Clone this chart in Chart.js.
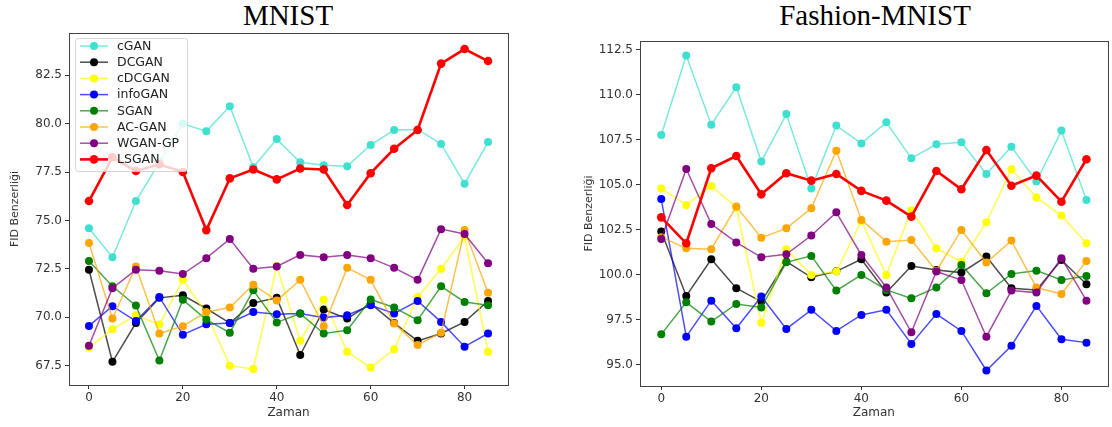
<!DOCTYPE html>
<html>
<head>
<meta charset="utf-8">
<script src="https://cdn.jsdelivr.net/npm/chart.js@4.4.1/dist/chart.umd.min.js"></script>
<style>
  body { margin: 0; background: #fff; width: 1112px; height: 427px; overflow: hidden; position: relative; }
  canvas { position: absolute; top: 0; }
  .title { position: absolute; top: 1px; font-family: 'Liberation Serif', serif; font-size: 29px; color: #000; line-height: 1; white-space: nowrap; transform: translateX(-50%); }
</style>
</head>
<body>
<div class="title" style="left:288px">MNIST</div>
<div class="title" style="left:875px">Fashion-MNIST</div>
<canvas id="mnist" width="556" height="427" style="left:0"></canvas>
<canvas id="fashion" width="556" height="427" style="left:556px"></canvas>
<script>
const steps = [0, 5, 10, 15, 20, 25, 30, 35, 40, 45, 50, 55, 60, 65, 70, 75, 80, 85];
const modelNames = ['cGAN', 'DCGAN', 'cDCGAN', 'infoGAN', 'SGAN', 'AC-GAN', 'WGAN-GP', 'LSGAN'];
const modelColors = ['#40e0d0', '#000000', '#ffff00', '#0000ff', '#008000', '#ffa500', '#800080', '#ff0000'];

// MNIST FID values
const mnistCGAN    = [74.6, 73.1, 76.0, 78.0, 80.0, 79.6, 80.9, 77.75, 79.2, 78.0, 77.85, 77.8, 78.9, 79.67, 79.7, 78.95, 76.9, 79.05];
const mnistDCGAN   = [72.45, 67.7, 69.7, 71.0, 71.13, 70.45, 69.7, 70.74, 71.0, 68.05, 70.4, 69.93, 70.7, 69.7, 68.78, 69.16, 69.76, 70.84];
const mnistCDCGAN  = [68.44, 69.38, 70.1, 69.62, 71.93, 70.2, 67.5, 67.33, 72.64, 68.78, 70.9, 68.22, 67.4, 68.34, 71.04, 72.5, 74.16, 68.22];
const mnistInfoGAN = [69.55, 70.57, 69.8, 71.04, 69.1, 69.64, 69.7, 70.27, 70.15, 70.19, 69.98, 70.1, 70.62, 70.19, 70.84, 69.76, 68.48, 69.16];
const mnistSGAN    = [72.9, 71.6, 70.6, 67.76, 70.9, 69.88, 69.2, 71.39, 69.73, 70.19, 69.16, 69.33, 70.92, 70.5, 69.85, 71.6, 70.79, 70.62];
const mnistACGAN   = [73.84, 69.93, 72.62, 69.16, 69.54, 70.27, 70.5, 71.68, 70.86, 71.93, 69.54, 72.55, 71.93, 69.67, 68.56, 69.2, 74.5, 71.27];
const mnistWGANGP  = [68.53, 71.5, 72.45, 72.4, 72.23, 73.05, 74.04, 72.5, 72.62, 73.22, 73.1, 73.22, 73.05, 72.55, 71.93, 74.55, 74.3, 72.79];
const mnistLSGAN   = [76.0, 78.26, 77.55, 77.9, 77.5, 74.5, 77.17, 77.63, 77.12, 77.68, 77.63, 75.8, 77.44, 78.7, 79.67, 83.1, 83.85, 83.23];

// Fashion-MNIST FID values
const fashionCGAN    = [107.78, 112.19, 108.35, 110.43, 106.3, 108.94, 104.81, 108.3, 107.31, 108.48, 106.48, 107.26, 107.37, 105.61, 107.13, 105.19, 108.02, 104.17];
const fashionDCGAN   = [102.41, 98.83, 100.87, 99.26, 98.52, 100.74, 99.87, 100.2, 100.87, 99.02, 100.5, 100.28, 100.13, 101.02, 99.26, 99.17, 100.83, 99.48];
const fashionCDCGAN  = [104.81, 103.89, 104.94, 103.75, 97.35, 101.43, 100.0, 100.19, 103.0, 100.0, 103.6, 101.48, 100.74, 102.93, 105.87, 104.31, 103.3, 101.76];
const fashionInfoGAN = [104.22, 96.57, 98.57, 97.04, 98.8, 97.0, 98.06, 96.89, 97.78, 98.06, 96.17, 97.83, 96.89, 94.69, 96.06, 98.28, 96.43, 96.24];
const fashionSGAN    = [96.7, 98.48, 97.41, 98.39, 98.19, 100.7, 101.06, 99.13, 100.0, 99.17, 98.7, 99.3, 100.56, 98.98, 100.06, 100.24, 99.72, 99.94];
const fashionACGAN   = [102.1, 101.48, 101.43, 103.8, 102.07, 102.59, 103.7, 106.9, 103.06, 101.85, 101.94, 100.22, 102.5, 100.69, 101.91, 99.3, 98.94, 100.78];
const fashionWGANGP  = [102.0, 105.89, 102.83, 101.81, 100.98, 101.15, 102.19, 103.48, 101.11, 99.31, 96.81, 100.19, 99.72, 96.57, 99.13, 99.02, 100.93, 98.57];
const fashionLSGAN   = [103.2, 101.76, 105.93, 106.61, 104.48, 105.65, 105.24, 105.61, 104.67, 104.13, 103.24, 105.78, 104.76, 106.94, 104.96, 105.52, 104.07, 106.43];

const xTicks = [0, 20, 40, 60, 80];
const mnistYTicks = [67.5, 70.0, 72.5, 75.0, 77.5, 80.0, 82.5];
const fashionYTicks = [95.0, 97.5, 100.0, 102.5, 105.0, 107.5, 110.0, 112.5];

const mnistSeries = [mnistCGAN, mnistDCGAN, mnistCDCGAN, mnistInfoGAN, mnistSGAN, mnistACGAN, mnistWGANGP, mnistLSGAN];
const fashionSeries = [fashionCGAN, fashionDCGAN, fashionCDCGAN, fashionInfoGAN, fashionSGAN, fashionACGAN, fashionWGANGP, fashionLSGAN];

const lineColor = (hex, a) => {
    const n = parseInt(hex.slice(1), 16);
    return `rgba(${n >> 16}, ${(n >> 8) & 255}, ${n & 255}, ${a})`;
};

const buildDatasets = (series) => series.map((values, i) => {
    const isLS = modelNames[i] === 'LSGAN';
    return {
        label: modelNames[i],
        data: values.map((v, j) => ({ x: steps[j], y: v })),
        borderColor: lineColor(modelColors[i], isLS ? 1 : 0.7),
        backgroundColor: modelColors[i],
        pointBackgroundColor: modelColors[i],
        pointBorderColor: modelColors[i],
        borderWidth: isLS ? 2.6 : 1.5,
        pointRadius: isLS ? 4.3 : 4,
        pointBorderWidth: 0,
        tension: 0,
        order: series.length - i
    };
});

// matplotlib-like full frame around the axes
const framePlugin = {
    id: 'frame',
    afterDraw(chart) {
        const { ctx, chartArea: a } = chart;
        ctx.save();
        ctx.strokeStyle = '#444';
        ctx.lineWidth = 1;
        ctx.strokeRect(Math.round(a.left) + 0.5, Math.round(a.top) + 0.5, Math.round(a.right - a.left), Math.round(a.bottom - a.top));
        ctx.restore();
    }
};

// legend drawn inside the plot area, upper left
const innerLegend = {
    id: 'innerLegend',
    afterDatasetsDraw(chart) {
        const { ctx, chartArea: a } = chart;
        const x0 = a.left + 6, y0 = a.top + 5, w = 112, h = 133, rowH = 16.2;
        ctx.save();
        ctx.fillStyle = 'rgba(255,255,255,0.8)';
        ctx.strokeStyle = 'rgba(204,204,204,0.8)';
        ctx.lineWidth = 1;
        ctx.beginPath();
        ctx.roundRect(x0 + 0.5, y0 + 0.5, w, h, 3);
        ctx.fill();
        ctx.stroke();
        ctx.font = '12.5px "DejaVu Sans"';
        ctx.textBaseline = 'middle';
        chart.data.datasets.forEach((ds, i) => {
            const cy = y0 + 8 + i * rowH;
            ctx.strokeStyle = ds.borderColor;
            ctx.lineWidth = ds.borderWidth;
            ctx.beginPath();
            ctx.moveTo(x0 + 5, cy);
            ctx.lineTo(x0 + 33, cy);
            ctx.stroke();
            ctx.fillStyle = ds.pointBackgroundColor;
            ctx.beginPath();
            ctx.arc(x0 + 19, cy, ds.pointRadius, 0, Math.PI * 2);
            ctx.fill();
            ctx.fillStyle = '#222';
            ctx.fillText(ds.label, x0 + 42, cy + 0.5);
        });
        ctx.restore();
    }
};

const makeChart = (id, series, yTicks, yMin, yMax, yWidth, yTitlePad, xHeight, padding, plugins) => {
    return new Chart(document.getElementById(id), {
        type: 'line',
        data: { datasets: buildDatasets(series) },
        options: {
            responsive: false,
            animation: false,
            layout: { padding: padding },
            plugins: { legend: { display: false }, tooltip: { enabled: false } },
            scales: {
                x: {
                    type: 'linear',
                    min: -4.25,
                    max: 89.25,
                    afterBuildTicks: (s) => { s.ticks = xTicks.map(v => ({ value: v })); },
                    afterFit: (s) => { s.height = xHeight; },
                    grid: { drawOnChartArea: false, tickLength: 4, color: '#333' },
                    border: { display: false },
                    ticks: { color: '#333', font: { family: 'DejaVu Sans', size: 12 }, padding: 2, maxRotation: 0 },
                    title: { display: true, text: 'Zaman', color: '#333', font: { family: 'DejaVu Sans', size: 12 }, padding: { top: 0, bottom: 7 } }
                },
                y: {
                    min: yMin,
                    max: yMax,
                    afterBuildTicks: (s) => { s.ticks = yTicks.map(v => ({ value: v })); },
                    afterFit: (s) => { s.width = yWidth; },
                    grid: { drawOnChartArea: false, tickLength: 4, color: '#333' },
                    border: { display: false },
                    ticks: { color: '#333', font: { family: 'DejaVu Sans', size: 12 }, padding: 3, callback: v => v.toFixed(1) },
                    title: { display: true, text: 'FID Benzerliği', color: '#333', font: { family: 'DejaVu Sans', size: 11 }, padding: { top: yTitlePad, bottom: 0 } }
                }
            }
        },
        plugins: plugins
    });
};

makeChart('mnist', mnistSeries, mnistYTicks, 66.5, 84.68, 69, 9, 42, { top: 33, right: 48, left: 0, bottom: 0 }, [framePlugin, innerLegend]);
makeChart('fashion', fashionSeries, fashionYTicks, 93.83, 113.0, 84, 27, 41, { top: 41, right: 2, left: 0, bottom: 0 }, [framePlugin]);
</script>
</body>
</html>
